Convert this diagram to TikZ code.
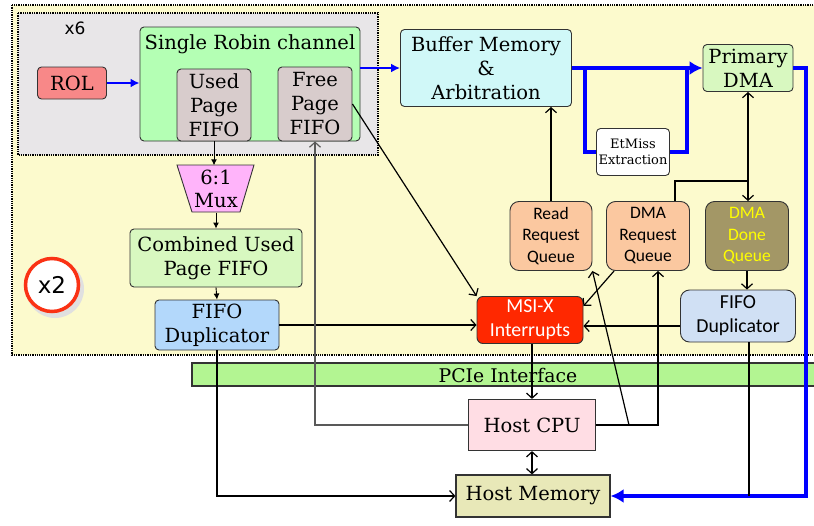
\documentclass[tikz,border=0pt]{standalone}
\usepackage{fontspec}
\setmainfont{DejaVu Serif}
\newfontfamily\qfont{Carlito}
\newfontfamily\tagfont{DejaVu Sans}
\usetikzlibrary{arrows.meta,positioning}

\definecolor{bgyellow}{RGB}{252,250,205}
\definecolor{chgray}{RGB}{232,230,232}
\definecolor{robingreen}{RGB}{180,255,180}
\definecolor{fifogray}{RGB}{216,204,204}
\definecolor{rolred}{RGB}{248,136,136}
\definecolor{muxpink}{RGB}{255,180,250}
\definecolor{paleleaf}{RGB}{216,248,192}
\definecolor{dupblue}{RGB}{179,216,251}
\definecolor{bufcyan}{RGB}{208,248,248}
\definecolor{queuepeach}{RGB}{251,200,160}
\definecolor{doneolive}{RGB}{163,151,102}
\definecolor{donetext}{RGB}{255,255,0}
\definecolor{dupsky}{RGB}{208,224,244}
\definecolor{msixred}{RGB}{255,40,0}
\definecolor{pciegreen}{RGB}{179,245,146}
\definecolor{cpupink}{RGB}{255,221,228}
\definecolor{memkhaki}{RGB}{232,232,184}
\definecolor{ringred}{RGB}{250,50,20}
\definecolor{busblue}{RGB}{0,0,255}

\begin{document}
\begin{tikzpicture}[x=1pt, y=-1pt,
    box/.style={draw=black!80, line width=0.9pt, rounded corners=4pt, align=center,
      inner sep=0pt, font=\fontsize{19.5}{24}\selectfont},
    qbox/.style={box, rounded corners=9pt, font=\qfont\fontsize{17.5}{21.5}\selectfont},
    host/.style={box, rounded corners=0pt, line width=1.2pt},
    link/.style={line width=1.2pt, -{Straight Barb[length=5pt,width=11pt]}},
    twolink/.style={line width=1.2pt, {Straight Barb[length=5pt,width=11pt]}-{Straight Barb[length=5pt,width=11pt]}},
    small/.style={line width=0.9pt, -{Latex[length=6pt,width=6pt]}},
    wire/.style={line width=1.2pt},
    bus/.style={draw=busblue, line width=4pt},
    busarrow/.style={bus, -{Latex[length=13pt,width=14pt]}},
    feed/.style={draw=busblue, line width=2.4pt, -{Latex[length=9pt,width=9pt]}}]

  \useasboundingbox (0,0) rectangle (814,525);
  \clip (0,0) rectangle (814,525);
  \fill[white] (0,0) rectangle (814,525);

  % board and channel areas
  \draw[fill=bgyellow, densely dotted, line width=1.3pt] (12,5) rectangle (840,355);
  \draw[fill=chgray, densely dotted, line width=1.3pt] (18,13) rectangle (378,155);
  \node[font=\tagfont\fontsize{17}{20}\selectfont] (reps) at (75,28) {x6};

  % one robin channel
  \node[box, fill=rolred, minimum width=69pt, minimum height=32pt] (rol) at (72,83) {ROL};
  \node[box, fill=robingreen, minimum width=220pt, minimum height=114pt] (chan) at (250,84) {};
  \node[font=\fontsize{19.5}{24}\selectfont] (chantitle) at (250,44) {Single Robin channel};
  \node[box, fill=fifogray, minimum width=74pt, minimum height=72pt] (used) at (214,105) {Used\\Page\\FIFO};
  \node[box, fill=fifogray, minimum width=74pt, minimum height=74pt] (free) at (315,104) {Free\\Page\\FIFO};

  % used page path
  \fill[muxpink, draw=black!80, line width=0.9pt] (177,165) -- (254,165) -- (240,212) -- (192,212) -- cycle;
  \node[align=center, inner sep=0pt, minimum width=77pt, minimum height=47pt,
    font=\fontsize{19.5}{23}\selectfont] (mux) at (216,189) {6:1\\Mux};
  \node[box, fill=paleleaf, minimum width=172pt, minimum height=58pt] (comb) at (216,258) {Combined Used\\Page FIFO};
  \node[box, fill=dupblue, minimum width=124pt, minimum height=50pt] (dupl) at (217,325) {FIFO\\Duplicator};

  \fill[black!12] (55,289) circle (29);
  \node[circle, draw=ringred, line width=3.5pt, fill=white, minimum size=53pt, inner sep=0pt,
    font=\tagfont\fontsize{23}{26}\selectfont] (twice) at (52,285) {x2};

  % buffer and DMA side
  \node[box, fill=bufcyan, minimum width=171pt, minimum height=77pt] (buf) at (486,68) {Buffer Memory\\\&\\Arbitration};
  \node[box, fill=paleleaf, minimum width=90pt, minimum height=47pt] (pdma) at (748,68) {Primary\\DMA};
  \node[box, fill=white, minimum width=73pt, minimum height=47pt, font=\fontsize{13}{16}\selectfont] (etm) at (633,152) {EtMiss\\Extraction};
  \node[qbox, fill=queuepeach, minimum width=82pt, minimum height=69pt] (rrq) at (551,236) {Read\\Request\\Queue};
  \node[qbox, fill=queuepeach, minimum width=83pt, minimum height=69pt] (drq) at (648,236) {DMA\\Request\\Queue};
  \node[qbox, fill=doneolive, text=donetext, minimum width=83pt, minimum height=69pt] (ddq) at (747,236) {DMA\\Done\\Queue};
  \node[qbox, fill=dupsky, minimum width=115pt, minimum height=52pt, font=\qfont\fontsize{19.8}{24}\selectfont] (dupr) at (738,316) {FIFO\\Duplicator};
  \node[qbox, rounded corners=6pt, fill=msixred, text=white, minimum width=106pt, minimum height=47pt,
    font=\qfont\fontsize{19.8}{24}\selectfont] (msix) at (530,320) {MSI-X\\Interrupts};

  % PCIe and host
  \draw[fill=pciegreen, line width=1.5pt, draw=black!80] (192,363) rectangle (840,386);
  \node[font=\fontsize{18.8}{20}\selectfont] (pcie) at (508,375) {PCIe Interface};
  \node[host, fill=cpupink, minimum width=127pt, minimum height=51pt] (cpu) at (532,425) {Host CPU};
  \node[host, fill=memkhaki, minimum width=154pt, minimum height=42pt] (mem) at (533,496) {Host Memory};

  \coordinate (rturn) at (806,496);
  \coordinate (djoin) at (748,181);
  \coordinate (cpufork) at (629,425);

  % data flow
  \draw[feed] (rol.east) -- (rol.east -| chan.west);
  \draw[feed] (chan.east |- buf.west) -- (buf.west);
  \draw[busarrow] (buf.east) -- (pdma.west);
  \draw[bus] ([xshift=13pt]buf.east) |- (etm.west);
  \draw[bus] (etm.east) -| ([xshift=-16pt]pdma.west);
  \draw[busarrow] (pdma.east) -| (rturn) -- (mem.east);

  % control flow
  \draw[small] (used.south) -- (used.south |- mux.north);
  \draw[small] (mux.south) -- (comb.north);
  \draw[small] (comb.south) -- (dupl.north);
  \draw[link] (dupl.east) -- (dupl.east -| msix.west);
  \draw[link] (dupl.south) |- (mem.west);
  \draw[link] (free.east) -- (msix.north west);
  \draw[link, draw=black!65] (cpu.west) -| (free.south);
  \draw[link] (cpu.north |- msix.south) -- (cpu.north);
  \draw[link] (cpu.east) -| ([xshift=10pt]drq.south);
  \draw[link] (cpufork) -- (rrq.south east);
  \draw[link] ([xshift=8pt]drq.south west) -- ([yshift=14pt]msix.east);
  \draw[link] (dupr.west |- 0,326) -- (msix.east |- 0,326);
  \draw[link] (rrq.north) -- (rrq.north |- buf.south);
  \draw[twolink] (pdma.south) -- (pdma.south |- ddq.north);
  \draw[wire] ([xshift=27pt]drq.north) |- (djoin);
  \draw[link] (ddq.south) -- (ddq.south |- dupr.north);
  \draw[wire] ([xshift=11pt]dupr.south) -- ([xshift=11pt]dupr.south |- mem.east);
  \draw[twolink] (cpu.south) -- (cpu.south |- mem.north);
\end{tikzpicture}
\end{document}
